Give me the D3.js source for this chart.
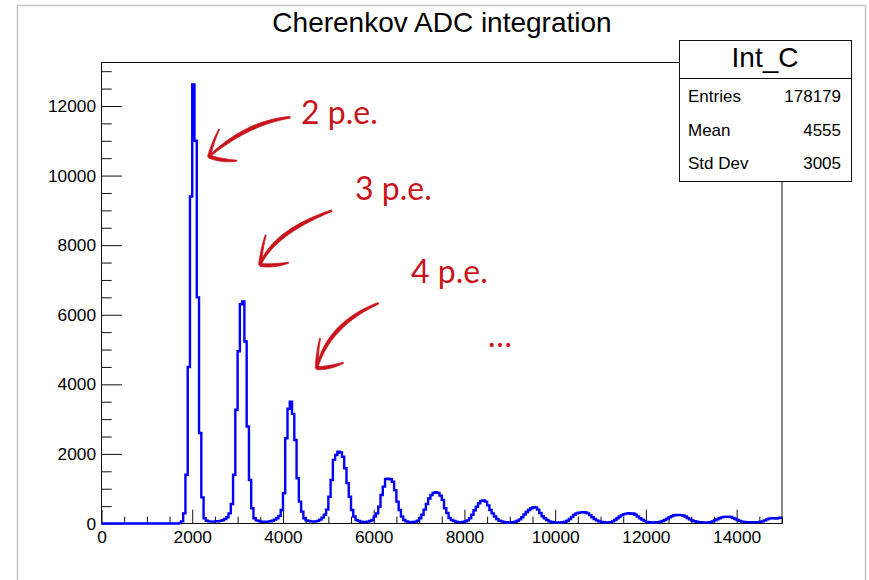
<!DOCTYPE html>
<html>
<head>
<meta charset="utf-8">
<script src="https://cdn.jsdelivr.net/npm/d3@7"></script>
<style>
  html, body { margin: 0; padding: 0; background: #fff; }
  svg { display: block; }
</style>
</head>
<body>
<svg id="chart" width="869" height="580"></svg>
<script>
// ---- Histogram Int_C: 300 bins of width 50 ADC counts, from 0 to 15000 ----
const binLow = 0;
const binWidth = 50;
const binCounts = [
  0, 0, 0, 0, 0, 0, 0, 0, 0, 0,
  0, 0, 0, 0, 0, 0, 0, 0, 0, 0,
  0, 0, 0, 0, 0, 0, 0, 0, 0, 0,
  0, 0, 0, 0, 10, 60, 290, 1400, 4500, 9400,
  12620, 11000, 6500, 2600, 750, 150, 80, 60, 55, 55,
  60, 65, 75, 95, 130, 180, 290, 560, 1400, 3270,
  4950, 6300, 6380, 5230, 2790, 1250, 440, 150, 90, 70,
  55, 50, 50, 55, 65, 80, 110, 150, 220, 390,
  870, 2450, 3300, 3500, 3150, 2400, 1300, 630, 340, 150,
  90, 70, 60, 55, 60, 75, 110, 170, 250, 400,
  770, 1250, 1830, 1970, 2067, 2040, 1920, 1590, 1160, 770,
  390, 200, 100, 70, 50, 45, 45, 55, 70, 100,
  200, 290, 480, 820, 1060, 1280, 1290, 1270, 1200, 960,
  630, 390, 200, 100, 60, 45, 40, 45, 55, 80,
  150, 250, 400, 560, 720, 820, 880, 900, 880, 800,
  680, 440, 300, 160, 100, 70, 50, 40, 40, 45,
  60, 90, 150, 250, 380, 480, 580, 650, 660, 630,
  520, 390, 290, 200, 130, 80, 60, 45, 35, 30,
  30, 35, 50, 80, 120, 180, 260, 330, 390, 440,
  470, 460, 400, 300, 210, 150, 100, 60, 45, 35,
  30, 28, 30, 35, 50, 80, 130, 190, 250, 290,
  310, 320, 325, 315, 290, 240, 180, 130, 90, 60,
  45, 35, 30, 30, 40, 60, 100, 150, 200, 240,
  270, 285, 295, 280, 290, 250, 200, 150, 110, 70,
  45, 35, 30, 30, 35, 40, 50, 70, 100, 140,
  180, 210, 235, 245, 248, 240, 230, 200, 160, 120,
  90, 65, 50, 40, 35, 30, 28, 30, 40, 60,
  90, 120, 150, 175, 190, 198, 195, 185, 160, 130,
  100, 75, 55, 45, 40, 38, 35, 35, 35, 38,
  45, 60, 90, 120, 140, 150, 155, 145, 160, 165
];

// Axis ranges and tick values
const xRange = [0, 15000];
const yRange = [0, 13250];
const xMajorTicks = [0, 2000, 4000, 6000, 8000, 10000, 12000, 14000];
const xMinorStep = 500;
const yMajorTicks = [0, 2000, 4000, 6000, 8000, 10000, 12000];
const yMinorStep = 500;

// Texts
const chartTitle = "Cherenkov ADC integration";
const statsName = "Int_C";
const statsLabels = ["Entries", "Mean", "Std Dev"];
const statsValues = ["178179", "4555", "3005"];

// Photo-electron peak annotations (data coordinates: ADC value, counts)
const peakLabels = ["2 p.e.", "3 p.e.", "4 p.e.", "\u2026"];
const peakLabelX = [4400, 5590, 6824, 8522];
const peakLabelY = [11482, 9298, 6904, 5073];
const arrowStart = [[4156, 11675], [5076, 8991], [6103, 6329]];
const arrowBend  = [[3197, 11511], [3804, 8378], [5005, 5728]];
const arrowTip   = [[2370, 10543], [3495, 7430], [4745, 4461]];
const arrowBarbUp   = [[2591, 11330], [3620, 8292], [4818, 5323]];
const arrowBarbSide = [[2981, 10428], [4119, 7496], [5332, 4622]];

// ---- Layout ----
const frame = { left: 101.5, right: 782, top: 62.5, bottom: 523.5 };
const axisFont = "'Liberation Sans', Arial, Helvetica, sans-serif";
const annotColor = "#c8141a";

const svg = d3.select("#chart");

const x = d3.scaleLinear().domain(xRange).range([frame.left, frame.right]);
const y = d3.scaleLinear().domain(yRange).range([frame.bottom, frame.top]);

// Canvas border
svg.append("path")
  .attr("d", "M17.5,580 V5.5 H865.5 V580")
  .attr("fill", "none")
  .attr("stroke", "#c4c4c4")
  .attr("stroke-width", 1.5);

// Title
svg.append("text")
  .attr("x", 442).attr("y", 32)
  .attr("text-anchor", "middle")
  .attr("font-family", axisFont)
  .attr("font-size", 28)
  .attr("fill", "#000")
  .text(chartTitle);

// Frame
svg.append("rect")
  .attr("x", frame.left).attr("y", frame.top)
  .attr("width", frame.right - frame.left)
  .attr("height", frame.bottom - frame.top)
  .attr("fill", "none")
  .attr("stroke", "#111")
  .attr("stroke-width", 1);

// Minor tick values
const xMinor = d3.range(xRange[0], xRange[1] + 1, xMinorStep).filter(v => !xMajorTicks.includes(v));
const yMinor = d3.range(0, 13001, yMinorStep).filter(v => !yMajorTicks.includes(v));

const xTickLen = 0.03 * (frame.bottom - frame.top);
const yTickLen = 0.03 * (frame.right - frame.left);

function styleAxis(g) {
  g.select(".domain").remove();
  g.selectAll(".tick line").attr("stroke", "#111").attr("stroke-width", 1);
  g.selectAll(".tick text")
    .attr("font-family", axisFont)
    .attr("font-size", 17.3)
    .attr("fill", "#000");
}

// X axis (ticks pointing into the frame)
svg.append("g")
  .attr("transform", `translate(0,${frame.bottom})`)
  .call(d3.axisBottom(x).tickValues(xMinor).tickSize(-xTickLen / 2).tickFormat(""))
  .call(styleAxis);
svg.append("g")
  .attr("transform", `translate(0,${frame.bottom})`)
  .call(d3.axisBottom(x).tickValues(xMajorTicks).tickSize(-xTickLen).tickPadding(7.5).tickFormat(d3.format("d")))
  .call(styleAxis);

// Y axis
svg.append("g")
  .attr("transform", `translate(${frame.left},0)`)
  .call(d3.axisLeft(y).tickValues(yMinor).tickSize(-yTickLen / 2).tickFormat(""))
  .call(styleAxis);
svg.append("g")
  .attr("transform", `translate(${frame.left},0)`)
  .call(d3.axisLeft(y).tickValues(yMajorTicks).tickSize(-yTickLen).tickPadding(5.5).tickFormat(d3.format("d")))
  .call(styleAxis);

// Histogram outline as steps
const stepPoints = [];
binCounts.forEach((c, i) => {
  const lo = binLow + i * binWidth;
  stepPoints.push([lo, c], [lo + binWidth, c]);
});
svg.append("path")
  .datum(stepPoints)
  .attr("d", d3.line().x(d => x(d[0])).y(d => y(d[1])))
  .attr("fill", "none")
  .attr("stroke", "#0000ff")
  .attr("stroke-width", 2.4)
  .attr("stroke-linejoin", "miter");

// Statistics box
const box = { x: 679, y: 40, w: 172, h: 141, sep: 78 };
svg.append("rect")
  .attr("x", box.x + 0.5).attr("y", box.y + 0.5)
  .attr("width", box.w).attr("height", box.h)
  .attr("fill", "#fff").attr("stroke", "#111").attr("stroke-width", 1);
svg.append("line")
  .attr("x1", box.x + 0.5).attr("x2", box.x + box.w + 0.5)
  .attr("y1", box.sep + 0.5).attr("y2", box.sep + 0.5)
  .attr("stroke", "#111").attr("stroke-width", 1);
svg.append("text")
  .attr("x", box.x + box.w / 2).attr("y", 67)
  .attr("text-anchor", "middle")
  .attr("font-family", axisFont).attr("font-size", 28)
  .text(statsName);
const rowBase = [102, 136, 169];
statsLabels.forEach((lab, i) => {
  svg.append("text")
    .attr("x", 688).attr("y", rowBase[i])
    .attr("font-family", axisFont).attr("font-size", 17)
    .text(lab);
  svg.append("text")
    .attr("x", 841).attr("y", rowBase[i])
    .attr("text-anchor", "end")
    .attr("font-family", axisFont).attr("font-size", 17)
    .text(statsValues[i]);
});

// ---- Hand-drawn style annotation arrows ----
function quadPt(p0, p1, p2, t) {
  const a = (1 - t) * (1 - t), b = 2 * (1 - t) * t, c = t * t;
  return [a * p0[0] + b * p1[0] + c * p2[0], a * p0[1] + b * p1[1] + c * p2[1]];
}
function quadDer(p0, p1, p2, t) {
  return [2 * (1 - t) * (p1[0] - p0[0]) + 2 * t * (p2[0] - p1[0]),
          2 * (1 - t) * (p1[1] - p0[1]) + 2 * t * (p2[1] - p1[1])];
}
// Filled brush stroke along a quadratic curve with a half-width profile
function brush(p0, p1, p2, halfWidth) {
  const n = 30, left = [], right = [];
  for (let k = 0; k <= n; k++) {
    const t = k / n;
    const p = quadPt(p0, p1, p2, t);
    const d = quadDer(p0, p1, p2, t);
    const len = Math.hypot(d[0], d[1]) || 1;
    const nx = -d[1] / len, ny = d[0] / len;
    const w = halfWidth(t);
    left.push([p[0] + nx * w, p[1] + ny * w]);
    right.push([p[0] - nx * w, p[1] - ny * w]);
  }
  const pts = left.concat(right.reverse());
  return "M" + pts.map(p => p[0].toFixed(2) + "," + p[1].toFixed(2)).join("L") + "Z";
}
const px = d => [x(d[0]), y(d[1])];
const annot = svg.append("g")
  .attr("fill", annotColor)
  .attr("stroke", annotColor)
  .attr("stroke-width", 0.8)
  .attr("stroke-linejoin", "round");

arrowTip.forEach((tip, i) => {
  const s = px(arrowStart[i]), c = px(arrowBend[i]), t = px(tip);
  annot.append("path").attr("d",
    brush(s, c, t, u => 0.35 + 1.45 * Math.sin(Math.PI * (0.12 + 0.78 * u))));
  // upper barb
  const bu = px(arrowBarbUp[i]);
  const mu = [(t[0] + bu[0]) / 2 - 1.5, (t[1] + bu[1]) / 2];
  annot.append("path").attr("d", brush(t, mu, bu, u => 1.5 - 1.0 * u));
  // lower barb with a slight flick
  const bs = px(arrowBarbSide[i]);
  const ms = [(t[0] + bs[0]) / 2, (t[1] + bs[1]) / 2 + 2.5];
  annot.append("path").attr("d", brush(t, ms, bs, u => 1.5 + 0.5 * Math.sin(Math.PI * u) - 0.9 * u));
});

peakLabels.forEach((lab, i) => {
  svg.append("text")
    .attr("x", x(peakLabelX[i])).attr("y", y(peakLabelY[i]))
    .attr("font-family", "Lato, 'Open Sans', sans-serif")
    .attr("font-size", 32)
    .attr("fill", annotColor)
    .text(lab);
});
</script>
</body>
</html>
